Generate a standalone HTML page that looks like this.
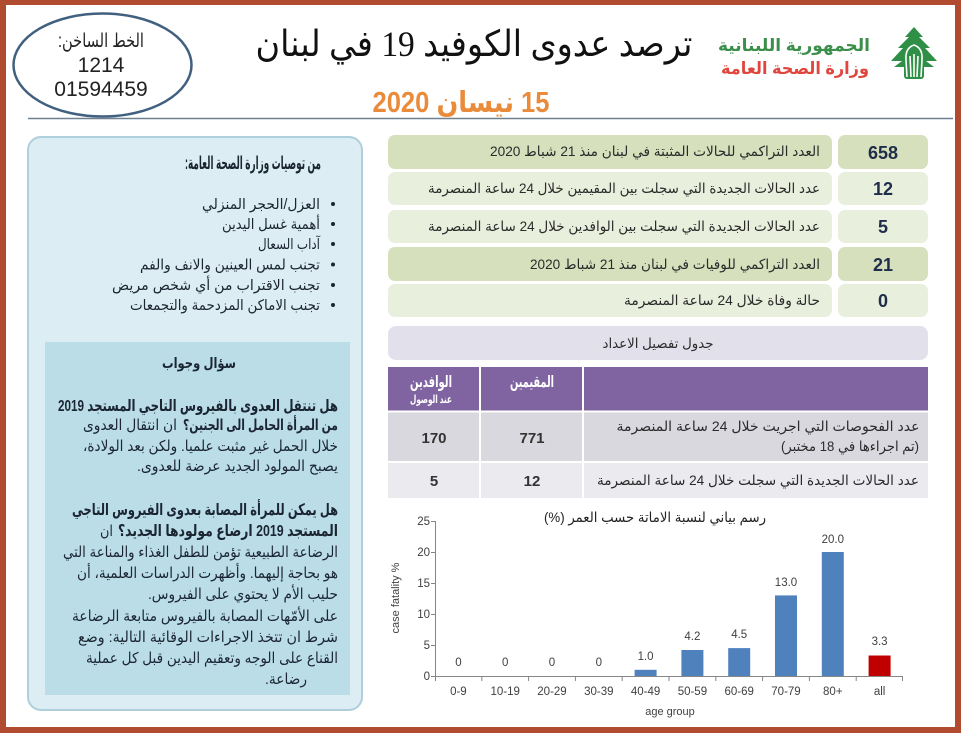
<!DOCTYPE html>
<html>
<head>
<meta charset="utf-8">
<style>
html,body{margin:0;padding:0;background:#fff;}
svg{display:block;}
text{font-family:"Liberation Sans","DejaVu Sans",sans-serif;}
.ar{direction:rtl;unicode-bidi:embed;}
</style>
</head>
<body>
<svg width="961" height="733" viewBox="0 0 961 733" xmlns="http://www.w3.org/2000/svg">
  <!-- frame -->
  <rect x="0" y="0" width="961" height="733" fill="#b04b2f"/>
  <rect x="6" y="5" width="949" height="722" fill="#ffffff"/>

  <!-- header ellipse -->
  <ellipse cx="102.5" cy="65" rx="89" ry="51.5" fill="none" stroke="#41607f" stroke-width="2.5"/>
  <text class="ar" x="101" y="47" font-size="19" fill="#222" text-anchor="middle" direction="rtl" textLength="86" lengthAdjust="spacingAndGlyphs">الخط الساخن:</text>
  <text x="101" y="72" font-size="21" fill="#222" text-anchor="middle">1214</text>
  <text x="101" y="96" font-size="21" fill="#222" text-anchor="middle">01594459</text>

  <!-- title -->
  <text class="ar" x="474" y="56" font-size="36" fill="#111" text-anchor="middle" direction="rtl" style="font-family:'Liberation Serif','DejaVu Sans',serif" textLength="437" lengthAdjust="spacingAndGlyphs">ترصد عدوى الكوفيد 19 في لبنان</text>
  <text class="ar" x="461" y="112" font-size="29" font-weight="bold" fill="#e98b3a" text-anchor="middle" direction="rtl" textLength="177" lengthAdjust="spacingAndGlyphs">15 نيسان 2020</text>

  <!-- logo -->
  <text class="ar" x="794" y="51" font-size="17" font-weight="bold" fill="#3b8f4a" text-anchor="middle" direction="rtl" textLength="152" lengthAdjust="spacingAndGlyphs">الجمهورية اللبنانية</text>
  <text class="ar" x="795" y="74" font-size="17" font-weight="bold" fill="#e0463e" text-anchor="middle" direction="rtl" textLength="148" lengthAdjust="spacingAndGlyphs">وزارة الصحة العامة</text>
  <g fill="#2f8f46">
    <polygon points="914,27 905,37 909,37 898,48 903,48 891,61 902,61 894,67 934,67 926,61 937,61 925,48 930,48 919,37 923,37"/>
    <rect x="904" y="58" width="20" height="21" rx="3"/>
  </g>
  <g stroke="#ffffff" stroke-width="1.6" fill="none">
    <path d="M907,77 L906,60 Q905,48 914,45 Q923,48 922,60 L921,77"/>
    <path d="M911,77 L910,56"/>
    <path d="M914,77 L914,54"/>
    <path d="M917,77 L918,56"/>
  </g>

  <!-- header separator -->
  <line x1="28" y1="118.5" x2="953" y2="118.5" stroke="#6e8090" stroke-width="1.5"/>

  <!-- LEFT PANEL -->
  <rect x="28" y="137" width="334" height="573" rx="13" fill="#dcedf3" stroke="#aecfdb" stroke-width="2"/>
  <text class="ar" x="253" y="169" font-size="18" font-weight="bold" fill="#1c2633" text-anchor="middle" direction="rtl" textLength="136" lengthAdjust="spacingAndGlyphs">من توصيات وزارة الصحة العامة:</text>

  <g fill="#1c2633">
    <circle cx="333" cy="204" r="2"/>
    <circle cx="333" cy="224" r="2"/>
    <circle cx="333" cy="244" r="2"/>
    <circle cx="333" cy="264.5" r="2"/>
    <circle cx="333" cy="285" r="2"/>
    <circle cx="333" cy="305" r="2"/>
  </g>
  <g font-size="14.5" fill="#1c2633">
    <text class="ar" x="261" y="209" text-anchor="middle" direction="rtl" textLength="118" lengthAdjust="spacingAndGlyphs">العزل/الحجر المنزلي</text>
    <text class="ar" x="271" y="229" text-anchor="middle" direction="rtl" textLength="98" lengthAdjust="spacingAndGlyphs">أهمية غسل اليدين</text>
    <text class="ar" x="289" y="249" text-anchor="middle" direction="rtl" textLength="62" lengthAdjust="spacingAndGlyphs">آداب السعال</text>
    <text class="ar" x="230" y="269.5" text-anchor="middle" direction="rtl" textLength="180" lengthAdjust="spacingAndGlyphs">تجنب لمس العينين والانف والفم</text>
    <text class="ar" x="216" y="290" text-anchor="middle" direction="rtl" textLength="208" lengthAdjust="spacingAndGlyphs">تجنب الاقتراب من أي شخص مريض</text>
    <text class="ar" x="225" y="310" text-anchor="middle" direction="rtl" textLength="190" lengthAdjust="spacingAndGlyphs">تجنب الاماكن المزدحمة والتجمعات</text>
  </g>

  <!-- Q&A box -->
  <rect x="45" y="342" width="305" height="353" fill="#badde8"/>
  <text class="ar" x="199" y="368" font-size="14.5" font-weight="bold" fill="#1c2633" text-anchor="middle" direction="rtl" textLength="74" lengthAdjust="spacingAndGlyphs">سؤال وجواب</text>

  <g font-size="15" fill="#1c2633">
    <text class="ar" x="198" y="411" font-weight="bold" font-size="16" text-anchor="middle" direction="rtl" textLength="280" lengthAdjust="spacingAndGlyphs">هل تنتقل العدوى بالفيروس التاجي المستجد 2019</text>
    <text class="ar" x="260.5" y="430" font-weight="bold" text-anchor="middle" direction="rtl" textLength="155" lengthAdjust="spacingAndGlyphs">من المرأة الحامل الى الجنين؟</text>
    <text class="ar" x="130" y="430" text-anchor="middle" direction="rtl" textLength="94" lengthAdjust="spacingAndGlyphs">ان انتقال العدوى</text>
    <text class="ar" x="210.5" y="451" text-anchor="middle" direction="rtl" textLength="255" lengthAdjust="spacingAndGlyphs">خلال الحمل غير مثبت علميا. ولكن بعد الولادة،</text>
    <text class="ar" x="237.5" y="471" text-anchor="middle" direction="rtl" textLength="201" lengthAdjust="spacingAndGlyphs">يصبح المولود الجديد عرضة للعدوى.</text>

    <text class="ar" x="205" y="515" font-weight="bold" font-size="16" text-anchor="middle" direction="rtl" textLength="266" lengthAdjust="spacingAndGlyphs">هل يمكن للمرأة المصابة بعدوى الفيروس التاجي</text>
    <text class="ar" x="228" y="536" font-weight="bold" font-size="16" text-anchor="middle" direction="rtl" textLength="220" lengthAdjust="spacingAndGlyphs">المستجد 2019 ارضاع مولودها الجديد؟</text>
    <text class="ar" x="106.5" y="536" text-anchor="middle" direction="rtl" textLength="13" lengthAdjust="spacingAndGlyphs">ان</text>
    <text class="ar" x="200.5" y="557" text-anchor="middle" direction="rtl" textLength="275" lengthAdjust="spacingAndGlyphs">الرضاعة الطبيعية تؤمن للطفل الغذاء والمناعة التي</text>
    <text class="ar" x="207.5" y="578" text-anchor="middle" direction="rtl" textLength="261" lengthAdjust="spacingAndGlyphs">هو بحاجة إليهما. وأظهرت الدراسات العلمية، أن</text>
    <text class="ar" x="243" y="599" text-anchor="middle" direction="rtl" textLength="190" lengthAdjust="spacingAndGlyphs">حليب الأم لا يحتوي على الفيروس.</text>
    <text class="ar" x="205" y="621" text-anchor="middle" direction="rtl" textLength="266" lengthAdjust="spacingAndGlyphs">على الأمّهات المصابة بالفيروس متابعة الرضاعة</text>
    <text class="ar" x="208" y="642" text-anchor="middle" direction="rtl" textLength="260" lengthAdjust="spacingAndGlyphs">شرط ان تتخذ الاجراءات الوقائية التالية:  وضع</text>
    <text class="ar" x="212" y="663" text-anchor="middle" direction="rtl" textLength="252" lengthAdjust="spacingAndGlyphs">القناع على الوجه وتعقيم اليدين قبل كل عملية</text>
    <text class="ar" x="286" y="684" text-anchor="middle" direction="rtl" textLength="42" lengthAdjust="spacingAndGlyphs">رضاعة.</text>
  </g>

  <!-- RIGHT STATS ROWS -->
  <g>
    <rect x="388" y="135" width="444" height="34" rx="7" fill="#d6e0bd"/>
    <rect x="838" y="135" width="90" height="34" rx="7" fill="#d6e0bd"/>
    <rect x="388" y="172" width="444" height="33" rx="7" fill="#e9efdd"/>
    <rect x="838" y="172" width="90" height="33" rx="7" fill="#e9efdd"/>
    <rect x="388" y="210" width="444" height="33" rx="7" fill="#e9efdd"/>
    <rect x="838" y="210" width="90" height="33" rx="7" fill="#e9efdd"/>
    <rect x="388" y="247" width="444" height="34" rx="7" fill="#d6e0bd"/>
    <rect x="838" y="247" width="90" height="34" rx="7" fill="#d6e0bd"/>
    <rect x="388" y="284" width="444" height="33" rx="7" fill="#e9efdd"/>
    <rect x="838" y="284" width="90" height="33" rx="7" fill="#e9efdd"/>
  </g>
  <g font-size="14" fill="#2b2b2b">
    <text class="ar" x="655" y="156" text-anchor="middle" direction="rtl" textLength="330" lengthAdjust="spacingAndGlyphs">العدد التراكمي للحالات المثبتة في لبنان منذ 21 شباط 2020</text>
    <text class="ar" x="624" y="193" text-anchor="middle" direction="rtl" textLength="392" lengthAdjust="spacingAndGlyphs">عدد الحالات الجديدة التي سجلت بين المقيمين خلال 24 ساعة المنصرمة</text>
    <text class="ar" x="624" y="231" text-anchor="middle" direction="rtl" textLength="392" lengthAdjust="spacingAndGlyphs">عدد الحالات الجديدة التي سجلت بين الوافدين خلال 24 ساعة المنصرمة</text>
    <text class="ar" x="675" y="269" text-anchor="middle" direction="rtl" textLength="290" lengthAdjust="spacingAndGlyphs">العدد التراكمي للوفيات في لبنان منذ 21 شباط 2020</text>
    <text class="ar" x="722" y="305" text-anchor="middle" direction="rtl" textLength="196" lengthAdjust="spacingAndGlyphs">حالة وفاة خلال 24 ساعة المنصرمة</text>
  </g>
  <g font-size="18" font-weight="bold" fill="#1f2d4a" text-anchor="middle">
    <text x="883" y="159">658</text>
    <text x="883" y="195">12</text>
    <text x="883" y="233">5</text>
    <text x="883" y="271">21</text>
    <text x="883" y="307">0</text>
  </g>

  <!-- table title -->
  <rect x="388" y="326" width="540" height="34" rx="8" fill="#e2e0eb"/>
  <text class="ar" x="658" y="348" font-size="13.5" fill="#2b2b2b" text-anchor="middle" direction="rtl" textLength="111" lengthAdjust="spacingAndGlyphs">جدول تفصيل الاعداد</text>

  <!-- table -->
  <rect x="388" y="367" width="540" height="44" fill="#8064a2"/>
  <rect x="388" y="412" width="540" height="49" fill="#d9d8df"/>
  <rect x="388" y="463" width="540" height="35" fill="#ebebef"/>
  <line x1="480" y1="367" x2="480" y2="498" stroke="#ffffff" stroke-width="2"/>
  <line x1="583" y1="367" x2="583" y2="498" stroke="#ffffff" stroke-width="2"/>
  <line x1="388" y1="411.5" x2="928" y2="411.5" stroke="#ffffff" stroke-width="2"/>
  <line x1="388" y1="462" x2="928" y2="462" stroke="#ffffff" stroke-width="2"/>

  <text class="ar" x="431" y="387" font-size="16" font-weight="bold" fill="#ffffff" text-anchor="middle" direction="rtl" textLength="42" lengthAdjust="spacingAndGlyphs">الوافدين</text>
  <text class="ar" x="431" y="403" font-size="11" font-weight="bold" fill="#ffffff" text-anchor="middle" direction="rtl" textLength="42" lengthAdjust="spacingAndGlyphs">عند الوصول</text>
  <text class="ar" x="532" y="387" font-size="16" font-weight="bold" fill="#ffffff" text-anchor="middle" direction="rtl" textLength="44" lengthAdjust="spacingAndGlyphs">المقيمين</text>

  <text class="ar" x="768" y="431" font-size="14" fill="#2b2b2b" text-anchor="middle" direction="rtl" textLength="303" lengthAdjust="spacingAndGlyphs">عدد الفحوصات التي اجريت خلال 24 ساعة المنصرمة</text>
  <text class="ar" x="850" y="451" font-size="14" fill="#2b2b2b" text-anchor="middle" direction="rtl" textLength="138" lengthAdjust="spacingAndGlyphs">(تم اجراءها في 18 مختبر)</text>
  <text class="ar" x="758" y="485" font-size="14" fill="#2b2b2b" text-anchor="middle" direction="rtl" textLength="322" lengthAdjust="spacingAndGlyphs">عدد الحالات الجديدة التي سجلت خلال 24 ساعة المنصرمة</text>

  <g font-size="15" font-weight="bold" fill="#333333" text-anchor="middle">
    <text x="434" y="443">170</text>
    <text x="532" y="443">771</text>
    <text x="434" y="486">5</text>
    <text x="532" y="486">12</text>
  </g>

  <!-- CHART -->
  <text class="ar" x="655" y="522" font-size="14" fill="#222" text-anchor="middle" direction="rtl" textLength="222" lengthAdjust="spacingAndGlyphs">رسم بياني لنسبة الاماتة حسب العمر (%)</text>

  <g stroke="#868686" stroke-width="1">
    <line x1="435.5" y1="521" x2="435.5" y2="676"/>
    <line x1="435" y1="676.5" x2="903" y2="676.5"/>
    <line x1="431" y1="521.5" x2="435" y2="521.5"/>
    <line x1="431" y1="552.5" x2="435" y2="552.5"/>
    <line x1="431" y1="583.5" x2="435" y2="583.5"/>
    <line x1="431" y1="614.5" x2="435" y2="614.5"/>
    <line x1="431" y1="645.5" x2="435" y2="645.5"/>
    <line x1="431" y1="676.5" x2="435" y2="676.5"/>
    <line x1="481.8" y1="676" x2="481.8" y2="681"/>
    <line x1="528.6" y1="676" x2="528.6" y2="681"/>
    <line x1="575.4" y1="676" x2="575.4" y2="681"/>
    <line x1="622.2" y1="676" x2="622.2" y2="681"/>
    <line x1="669" y1="676" x2="669" y2="681"/>
    <line x1="715.8" y1="676" x2="715.8" y2="681"/>
    <line x1="762.6" y1="676" x2="762.6" y2="681"/>
    <line x1="809.4" y1="676" x2="809.4" y2="681"/>
    <line x1="856.2" y1="676" x2="856.2" y2="681"/>
    <line x1="902.5" y1="676" x2="902.5" y2="681"/>
    <line x1="435.5" y1="676" x2="435.5" y2="681"/>
  </g>

  <g font-size="11.5" fill="#404040" text-anchor="end">
    <text x="430" y="525">25</text>
    <text x="430" y="556">20</text>
    <text x="430" y="587">15</text>
    <text x="430" y="618">10</text>
    <text x="430" y="649">5</text>
    <text x="430" y="680">0</text>
  </g>

  <!-- bars -->
  <g fill="#4f81bd">
    <rect x="634.6" y="669.8" width="22" height="6.2"/>
    <rect x="681.4" y="650" width="22" height="26"/>
    <rect x="728.2" y="648.1" width="22" height="27.9"/>
    <rect x="775" y="595.4" width="22" height="80.6"/>
    <rect x="821.8" y="552" width="22" height="124"/>
  </g>
  <rect x="868.6" y="655.5" width="22" height="20.5" fill="#c00000"/>

  <g font-size="11.5" fill="#404040" text-anchor="middle">
    <text x="458.4" y="666">0</text>
    <text x="505.2" y="666">0</text>
    <text x="552" y="666">0</text>
    <text x="598.8" y="666">0</text>
    <text x="645.6" y="660">1.0</text>
    <text x="692.4" y="640">4.2</text>
    <text x="739.2" y="638">4.5</text>
    <text x="786" y="586">13.0</text>
    <text x="832.8" y="543">20.0</text>
    <text x="879.6" y="645">3.3</text>
  </g>

  <g font-size="11.5" fill="#404040" text-anchor="middle">
    <text x="458.4" y="695">0-9</text>
    <text x="505.2" y="695">10-19</text>
    <text x="552" y="695">20-29</text>
    <text x="598.8" y="695">30-39</text>
    <text x="645.6" y="695">40-49</text>
    <text x="692.4" y="695">50-59</text>
    <text x="739.2" y="695">60-69</text>
    <text x="786" y="695">70-79</text>
    <text x="832.8" y="695">80+</text>
    <text x="879.6" y="695">all</text>
  </g>

  <text x="670" y="715" font-size="11" fill="#404040" text-anchor="middle">age group</text>
  <text transform="translate(399,598) rotate(-90)" font-size="11" fill="#404040" text-anchor="middle">case fatality %</text>
</svg>
</body>
</html>
